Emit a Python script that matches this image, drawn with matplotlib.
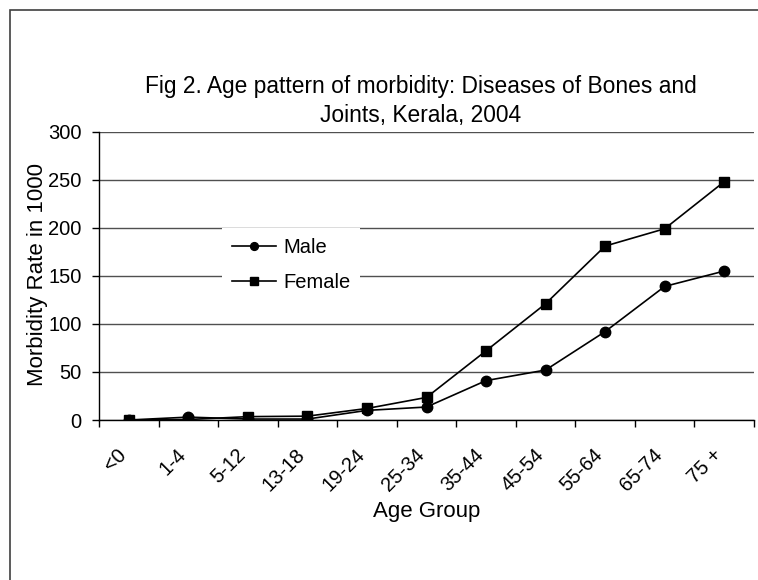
import matplotlib
matplotlib.use("Agg")
import matplotlib.pyplot as plt
from matplotlib.patches import Rectangle
import matplotlib.transforms as mtransforms

categories = ["<0", "1-4", "5-12", "13-18", "19-24", "25-34", "35-44",
              "45-54", "55-64", "65-74", "75 +"]
male = [0, 3, 1, 1, 10, 13.5, 41, 52, 92, 139, 155]
female = [0, 0.5, 3.5, 4, 12, 23.5, 72, 121, 181, 199, 248]
yticks = [0, 50, 100, 150, 200, 250, 300]

plt.rcParams['font.family'] = ['Liberation Sans', 'DejaVu Sans']

W, H = 758, 580
fig = plt.figure(figsize=(W / 100, H / 100), dpi=100)
fig.patch.set_facecolor('white')

# outer chart border (only left and top fall inside the image)
fig.patches.append(Rectangle((9.5 / W, -0.1), 2.0, (H - 10) / H + 0.1,
                             transform=fig.transFigure, fill=False,
                             edgecolor='#404040', linewidth=1.2))

left, right, top, bottom = 99, 754, 131.7, 420
ax = fig.add_axes([left / W, (H - bottom) / H, (right - left) / W, (bottom - top) / H])

n = len(categories)
xs = [i + 0.5 for i in range(n)]
ax.plot(xs, male, color='black', lw=1.2, marker='o', markersize=7.5, label='Male', zorder=3)
ax.plot(xs, female, color='black', lw=1.2, marker='s', markersize=7.5, label='Female', zorder=3)

ax.set_xlim(0, n)
ax.set_ylim(0, 300)
ax.set_yticks(yticks)
ax.set_yticklabels([str(v) for v in yticks])
ax.yaxis.grid(True, color='#505050', linewidth=1.0, zorder=0)
ax.set_axisbelow(True)

ax.set_xticks(range(n + 1))
ax.set_xticklabels([])
ax.set_xticks(xs, minor=True)
ax.set_xticklabels(categories, minor=True)
ax.tick_params(axis='x', which='major', length=5, width=1, direction='out', color='black')
ax.tick_params(axis='x', which='minor', length=0, pad=23, labelsize=14.5)
ax.tick_params(axis='y', length=5, width=1, direction='out', pad=7.5, labelsize=14.5, color='black')
for lab in ax.get_xticklabels(minor=True):
    lab.set_rotation(45)
    lab.set_ha('right')
    lab.set_va('center')
    lab.set_rotation_mode('anchor')
    lab.set_transform(lab.get_transform() + mtransforms.ScaledTranslation(-5 / 100, 0, fig.dpi_scale_trans))

for s in ['top', 'right']:
    ax.spines[s].set_visible(False)
for s in ['left', 'bottom']:
    ax.spines[s].set_color('black')
    ax.spines[s].set_linewidth(1.0)

ax.set_xlabel('Age Group', fontsize=16, labelpad=0)
ax.xaxis.set_label_coords(0.5, -(512 - bottom) / (bottom - top))
ax.xaxis.label.set_va('center')
ax.set_ylabel('Morbidity Rate in 1000', fontsize=16, va='center')
ax.yaxis.set_label_coords(-(left - 37.5) / (right - left), (bottom - 275) / (bottom - top))

fig.text(421 / W, 1 - 101 / H, 'Fig 2. Age pattern of morbidity: Diseases of Bones and\nJoints, Kerala, 2004',
         ha='center', va='center', fontsize=16.4, linespacing=1.38)

leg = ax.legend(loc='upper left',
                bbox_to_anchor=((221.7 - left) / (right - left), (bottom - 227.5) / (bottom - top)),
                frameon=True, facecolor='white', edgecolor='none', framealpha=1.0,
                fontsize=14.5, handlelength=2.2, handletextpad=0.35, labelspacing=0.82,
                borderpad=0.5, markerscale=0.75, borderaxespad=0)
leg.get_frame().set_boxstyle('square', pad=0)
leg.set_zorder(5)

fig.savefig('out.png', dpi=100)
